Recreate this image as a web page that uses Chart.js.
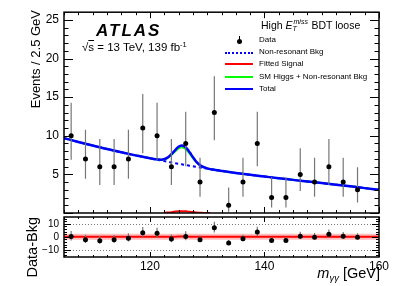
<!DOCTYPE html>
<html>
<head>
<meta charset="utf-8">
<script src="https://cdn.jsdelivr.net/npm/chart.js@4.4.0/dist/chart.umd.min.js"></script>
<style>
  body { margin: 0; background: #fff; }
  #wrap { position: relative; width: 399px; height: 286px; overflow: hidden; font-family: "Liberation Sans", Arial, sans-serif; }
  canvas { position: absolute; left: 0; top: 0; }
  .t { position: absolute; white-space: nowrap; line-height: 1; color: #000; }
  .leg { position: absolute; left: 259px; font-size: 8px; line-height: 8px; white-space: nowrap; }
  .sym { position: absolute; left: 225px; width: 28px; height: 0; }
</style>
</head>
<body>
<div id="wrap">
  <canvas id="main" width="399" height="286"></canvas>
  <canvas id="ratio" width="399" height="286"></canvas>

  <div class="t" style="left:96px;top:22px;font-size:17px;font-weight:bold;font-style:italic;letter-spacing:2px;">ATLAS</div>
  <div class="t" style="left:82px;top:41px;font-size:11.5px;">√<span style="text-decoration:overline">s</span> = 13 TeV, 139 fb<sup style="font-size:7.5px;vertical-align:4px;">-1</sup></div>

  <div class="t" style="left:261px;top:20px;font-size:10.5px;">High <i>E</i><span style="display:inline-block;position:relative;width:16px;height:1px;"><span style="position:absolute;left:1px;top:-10.5px;font-size:7px;font-style:italic;">miss</span><span style="position:absolute;left:0px;top:-3px;font-size:7px;font-style:italic;">T</span></span> BDT loose</div>

  <div style="position:absolute;left:238.5px;top:36px;width:1px;height:8px;background:#000;"></div>
  <div style="position:absolute;left:237px;top:38.5px;width:5px;height:5px;border-radius:50%;background:#000;"></div>
  <div class="leg" style="top:36px;">Data</div>
  <div class="sym" style="top:51.5px;border-top:2px dotted #0000ff;"></div>
  <div class="leg" style="top:48.4px;">Non-resonant Bkg</div>
  <div class="sym" style="top:63px;border-top:2px solid #ff0000;"></div>
  <div class="leg" style="top:60px;">Fitted Signal</div>
  <div class="sym" style="top:75.7px;border-top:2px solid #00ff00;"></div>
  <div class="leg" style="top:72.7px;">SM Higgs + Non-resonant Bkg</div>
  <div class="sym" style="top:88.2px;border-top:2.5px solid #0000ff;"></div>
  <div class="leg" style="top:85.4px;">Total</div>

  <div class="t" style="left:28.5px;top:210px;width:200px;text-align:right;font-size:13px;line-height:13px;transform-origin:0 0;transform:rotate(-90deg);">Events / 2.5 GeV</div>
  <div class="t" style="left:24.5px;top:417px;width:200px;text-align:right;font-size:14.5px;line-height:14.5px;transform-origin:0 0;transform:rotate(-90deg);">Data-Bkg</div>
  <div class="t" style="right:19px;top:266px;font-size:14.5px;"><i>m</i><span style="font-size:9.5px;font-style:italic;vertical-align:-3px;">γγ</span> [GeV]</div>
</div>

<script>
Chart.defaults.font.family = '"Liberation Sans", Arial, sans-serif';
Chart.defaults.color = '#000';

const xMin = 105, xMax = 160;

// data points, 2.5 GeV bins
const binCenters = [106.25, 108.75, 111.25, 113.75, 116.25, 118.75, 121.25, 123.75, 126.25, 128.75, 131.25,
                    133.75, 136.25, 138.75, 141.25, 143.75, 146.25, 148.75, 151.25, 153.75, 156.25];
const dataCounts = [10, 7, 6, 6, 7, 11, 10, 6, 9, 4, 13, 1, 4, 9, 2, 2, 5, 4, 6, 4, 3];
const errLo = [6.89, 4.42, 3.62, 3.62, 4.42, 7.73, 6.89, 3.62, 6.06, 2.09, 9.43, 0.17, 2.09, 6.06, 0.71, 0.71, 2.84, 2.09, 3.62, 2.09, 1.37];
const errHi = [14.27, 10.77, 9.58, 9.58, 10.77, 15.42, 14.27, 9.58, 13.11, 7.16, 17.70, 3.30, 7.16, 13.11, 4.64, 4.64, 8.38, 7.16, 9.58, 7.16, 5.92];
const residuals = [0.3, -2.2, -3.0, -2.2, -1.0, 3.2, 2.7, -1.7, 0.3, -2.2, 7.0, -4.7, -1.5, 3.7, -2.8, -2.8, 0.5, -0.2, 2.0, 0.5, -0.2];

// fitted curves
const curveX = [105, 107.5, 110, 112.5, 115, 117.5, 120, 121, 122, 122.5, 123, 123.5, 124, 124.5, 125, 125.5, 126, 126.5,
                127, 127.5, 128, 128.5, 129, 130, 131, 132.5, 135, 137.5, 140, 142.5, 145, 147.5, 150, 152.5, 155, 157.5, 160];
const bkgCurve = [9.70, 9.20, 8.73, 8.29, 7.86, 7.46, 7.08, 6.93, 6.79, 6.72, 6.65, 6.58, 6.51, 6.44, 6.37, 6.31, 6.24, 6.18,
                  6.11, 6.05, 5.98, 5.92, 5.86, 5.74, 5.62, 5.45, 5.18, 4.94, 4.72, 4.50, 4.29, 4.08, 3.87, 3.66, 3.45, 3.22, 3.00];
const smHiggsCurve = [9.70, 9.20, 8.73, 8.29, 7.86, 7.46, 7.08, 6.95, 6.90, 6.94, 7.08, 7.34, 7.67, 8.04, 8.35, 8.50, 8.40, 8.09,
                      7.62, 7.12, 6.66, 6.31, 6.06, 5.78, 5.62, 5.45, 5.18, 4.94, 4.72, 4.50, 4.29, 4.08, 3.87, 3.66, 3.45, 3.22, 3.00];
const totalCurve = [9.70, 9.20, 8.73, 8.29, 7.86, 7.46, 7.08, 6.95, 6.91, 6.97, 7.13, 7.42, 7.80, 8.22, 8.57, 8.74, 8.64, 8.30,
                    7.79, 7.24, 6.74, 6.35, 6.08, 5.78, 5.62, 5.45, 5.18, 4.94, 4.72, 4.50, 4.29, 4.08, 3.87, 3.66, 3.45, 3.22, 3.00];
const fitSigX = [122.5, 123, 123.5, 124, 124.5, 125, 125.5, 126, 126.5, 127, 127.5, 128, 128.5, 129, 129.5, 130, 130.5];
const fitSigY = [0.03, 0.05, 0.08, 0.13, 0.18, 0.22, 0.24, 0.24, 0.21, 0.17, 0.12, 0.08, 0.04, 0.02, 0.01, 0.0, 0.0];

const yTickValues = [5, 10, 15, 20, 25];
const ratioTickValues = [-10, 0, 10];
const ratioRefLines = [-10, 10];
const xTickValues = [120, 140, 160];

const pts = (xs, ys) => xs.map((x, i) => ({ x, y: ys[i] }));

// ROOT style frame with inward ticks on all four sides
const frameTicks = {
  id: 'frameTicks',
  beforeDatasetsDraw(chart, args, o) {
    const { ctx, chartArea: a } = chart;
    const sy = chart.scales.y;
    ctx.save();
    ctx.strokeStyle = '#777';
    ctx.lineWidth = 1;
    ctx.setLineDash([1, 2]);
    (o.refLines || []).forEach(v => {
      const py = Math.round(sy.getPixelForValue(v)) + 0.5;
      ctx.beginPath();
      ctx.moveTo(a.left, py);
      ctx.lineTo(a.right, py);
      ctx.stroke();
    });
    ctx.restore();
  },
  afterDatasetsDraw(chart, args, o) {
    const { ctx, chartArea: a } = chart;
    const sx = chart.scales.x, sy = chart.scales.y;
    const isMajor = (v, step) => Math.abs(v / step - Math.round(v / step)) < 1e-6;
    ctx.save();
    ctx.strokeStyle = '#000';
    ctx.lineWidth = 1;
    ctx.beginPath();
    for (let v = Math.ceil(sx.min / o.xMinor) * o.xMinor; v <= sx.max + 1e-9; v += o.xMinor) {
      const len = isMajor(v, o.xMajor) ? o.xMajorLen : o.xMinorLen;
      const px = Math.round(sx.getPixelForValue(v)) + 0.5;
      ctx.moveTo(px, a.bottom); ctx.lineTo(px, a.bottom - len);
      ctx.moveTo(px, a.top); ctx.lineTo(px, a.top + len);
    }
    for (let v = Math.ceil(sy.min / o.yMinor) * o.yMinor; v <= sy.max + 1e-9; v += o.yMinor) {
      const len = isMajor(v, o.yMajor) ? o.yMajorLen : o.yMinorLen;
      const py = Math.round(sy.getPixelForValue(v)) + 0.5;
      ctx.moveTo(a.left, py); ctx.lineTo(a.left + len, py);
      ctx.moveTo(a.right, py); ctx.lineTo(a.right - len, py);
    }
    ctx.stroke();
    ctx.lineWidth = 1.5;
    ctx.strokeRect(a.left, a.top, a.right - a.left, a.bottom - a.top);
    ctx.restore();
  }
};

const common = {
  responsive: false,
  animation: false,
  events: [],
};

// main panel
new Chart(document.getElementById('main').getContext('2d'), {
  type: 'line',
  data: {
    datasets: [
      {
        label: 'Data',
        data: pts(binCenters, dataCounts),
        showLine: false,
        pointRadius: 2.5,
        pointBackgroundColor: '#000',
        pointBorderColor: '#000',
        pointBorderWidth: 0,
        order: 0
      },
      {
        type: 'bar',
        label: 'Data errors',
        data: binCenters.map((x, i) => ({ x, y: [errLo[i], errHi[i]] })),
        backgroundColor: '#777',
        barThickness: 1.2,
        inflateAmount: 0,
        grouped: false,
        order: 1
      },
      {
        label: 'Total',
        data: pts(curveX, totalCurve),
        borderColor: '#0000ff',
        borderWidth: 2.5,
        pointRadius: 0,
        cubicInterpolationMode: 'monotone',
        order: 2
      },
      {
        label: 'SM Higgs + Non-resonant Bkg',
        data: pts(curveX, smHiggsCurve),
        borderColor: '#00ff00',
        borderWidth: 2,
        pointRadius: 0,
        cubicInterpolationMode: 'monotone',
        order: 3
      },
      {
        label: 'Fitted Signal',
        data: pts(fitSigX, fitSigY),
        borderColor: '#ff0000',
        borderWidth: 2,
        pointRadius: 0,
        cubicInterpolationMode: 'monotone',
        order: 4
      },
      {
        label: 'Non-resonant Bkg',
        data: pts(curveX, bkgCurve),
        borderColor: '#0000ff',
        borderWidth: 2,
        borderDash: [3, 3],
        pointRadius: 0,
        cubicInterpolationMode: 'monotone',
        order: 5
      }
    ]
  },
  options: {
    ...common,
    layout: { padding: { left: 0, right: 20, top: 10, bottom: 73 } },
    plugins: {
      legend: { display: false },
      tooltip: { enabled: false },
      frameTicks: { xMinor: 2.5, xMajor: 20, xMinorLen: 3, xMajorLen: 6, yMinor: 1, yMajor: 5, yMinorLen: 4.5, yMajorLen: 9 }
    },
    scales: {
      x: { type: 'linear', min: xMin, max: xMax, offset: false, display: false },
      y: {
        type: 'linear', min: 0, max: 26,
        afterFit: s => { s.width = 64; },
        afterBuildTicks: s => { s.ticks = yTickValues.map(v => ({ value: v })); },
        grid: { display: false, drawTicks: false },
        border: { display: false },
        ticks: { padding: 5, font: { size: 12 }, color: '#000' }
      }
    }
  },
  plugins: [frameTicks]
});

// Data - Bkg panel
new Chart(document.getElementById('ratio').getContext('2d'), {
  type: 'line',
  data: {
    datasets: [
      {
        label: 'Data-Bkg',
        data: pts(binCenters, residuals),
        showLine: false,
        pointRadius: 2.5,
        pointBackgroundColor: '#000',
        pointBorderColor: '#000',
        pointBorderWidth: 0,
        order: 0
      },
      {
        type: 'bar',
        label: 'Residual errors',
        data: binCenters.map((x, i) => ({ x, y: [residuals[i] - (dataCounts[i] - errLo[i]), residuals[i] + (errHi[i] - dataCounts[i])] })),
        backgroundColor: '#777',
        barThickness: 1.2,
        inflateAmount: 0,
        grouped: false,
        order: 1
      },
      {
        label: 'Fitted Signal',
        data: [{ x: xMin, y: 0 }, ...pts(fitSigX, fitSigY), { x: xMax, y: 0 }],
        borderColor: '#ff0000',
        borderWidth: 2,
        pointRadius: 0,
        order: 2
      },
      {
        label: 'Fitted Signal band',
        data: [{ x: xMin, y: 0 }, ...pts(fitSigX, fitSigY), { x: xMax, y: 0 }],
        borderColor: 'rgba(255,0,0,0.25)',
        borderWidth: 6,
        pointRadius: 0,
        order: 3
      }
    ]
  },
  options: {
    ...common,
    layout: { padding: { left: 0, right: 20, top: 217, bottom: 0 } },
    plugins: {
      legend: { display: false },
      tooltip: { enabled: false },
      frameTicks: { refLines: ratioRefLines, xMinor: 2.5, xMajor: 20, xMinorLen: 2, xMajorLen: 5, yMinor: 2, yMajor: 10, yMinorLen: 3, yMajorLen: 7 }
    },
    scales: {
      x: {
        type: 'linear', min: xMin, max: xMax, offset: false,
        afterFit: s => { s.height = 29; },
        afterBuildTicks: s => { s.ticks = xTickValues.map(v => ({ value: v })); },
        grid: { display: false, drawTicks: false },
        border: { display: false },
        ticks: { padding: 2, autoSkip: false, maxRotation: 0, font: { size: 12 }, color: '#000' }
      },
      y: {
        type: 'linear', min: -15.5, max: 15.3,
        afterFit: s => { s.width = 64; },
        afterBuildTicks: s => { s.ticks = ratioTickValues.map(v => ({ value: v })); },
        grid: { display: false, drawTicks: false },
        border: { display: false },
        ticks: { padding: 5, font: { size: 10 }, color: '#000', callback: v => String(v).replace('-', '\u2212') }
      }
    }
  },
  plugins: [frameTicks]
});
</script>
</body>
</html>
